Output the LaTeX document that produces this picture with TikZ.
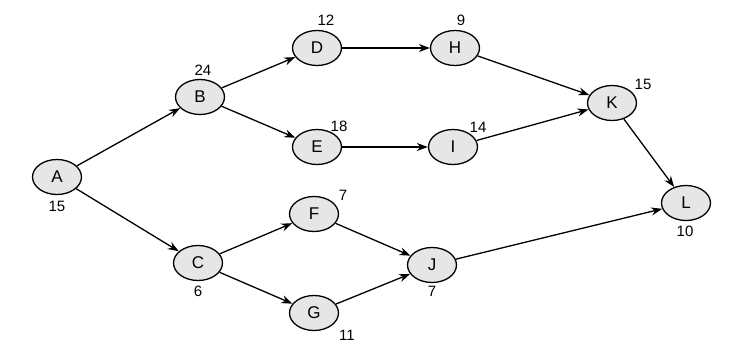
\documentclass[tikz,border=0pt]{standalone}
\usepackage{fontspec}
\setmainfont{Liberation Sans}
\usetikzlibrary{shapes.geometric,arrows.meta}
\definecolor{nodefill}{HTML}{E6E6E6}
\begin{document}
\begin{tikzpicture}[x=1pt,y=-1pt,
  ev/.style={ellipse,draw=black,line width=1.3pt,fill=nodefill,minimum width=49pt,minimum height=35pt,inner sep=0pt,font=\fontsize{17}{19}\selectfont},
  num/.style={font=\fontsize{15}{17}\selectfont,inner sep=0pt},
  conn/.style={line width=1.3pt,-{Stealth[length=11pt,width=8pt]}}]
\useasboundingbox (0,0) rectangle (732,353);
\node[ev] (A) at (57,177) {A};
\node[ev] (B) at (200,97) {B};
\node[ev] (C) at (198,263) {C};
\node[ev] (D) at (317,48) {D};
\node[ev] (E) at (317,147) {E};
\node[ev] (F) at (314,214) {F};
\node[ev] (G) at (314,313) {G};
\node[ev] (H) at (455,48) {H};
\node[ev] (I) at (453,147) {I};
\node[ev] (J) at (432,265) {J};
\node[ev] (K) at (612,103) {K};
\node[ev] (L) at (686,203) {L};
\node[num] (nA) at (57,206) {15};
\node[num] (nB) at (203,70) {24};
\node[num] (nC) at (198,291) {6};
\node[num] (nD) at (326,20) {12};
\node[num] (nE) at (339,126) {18};
\node[num] (nF) at (343,195) {7};
\node[num] (nG) at (347,335) {11};
\node[num] (nH) at (461,20) {9};
\node[num] (nI) at (478,127) {14};
\node[num] (nJ) at (432,291) {7};
\node[num] (nK) at (643,84) {15};
\node[num] (nL) at (685,231) {10};
\draw[conn] (A) -- (B);
\draw[conn] (A) -- (C);
\draw[conn] (B) -- (D);
\draw[conn] (B) -- (E);
\draw[conn] (D) -- (H);
\draw[conn] (E) -- (I);
\draw[conn] (H) -- (K);
\draw[conn] (I) -- (K);
\draw[conn] (K) -- (L);
\draw[conn] (C) -- (F);
\draw[conn] (C) -- (G);
\draw[conn] (F) -- (J);
\draw[conn] (G) -- (J);
\draw[conn] (J) -- (L);
\end{tikzpicture}
\end{document}
